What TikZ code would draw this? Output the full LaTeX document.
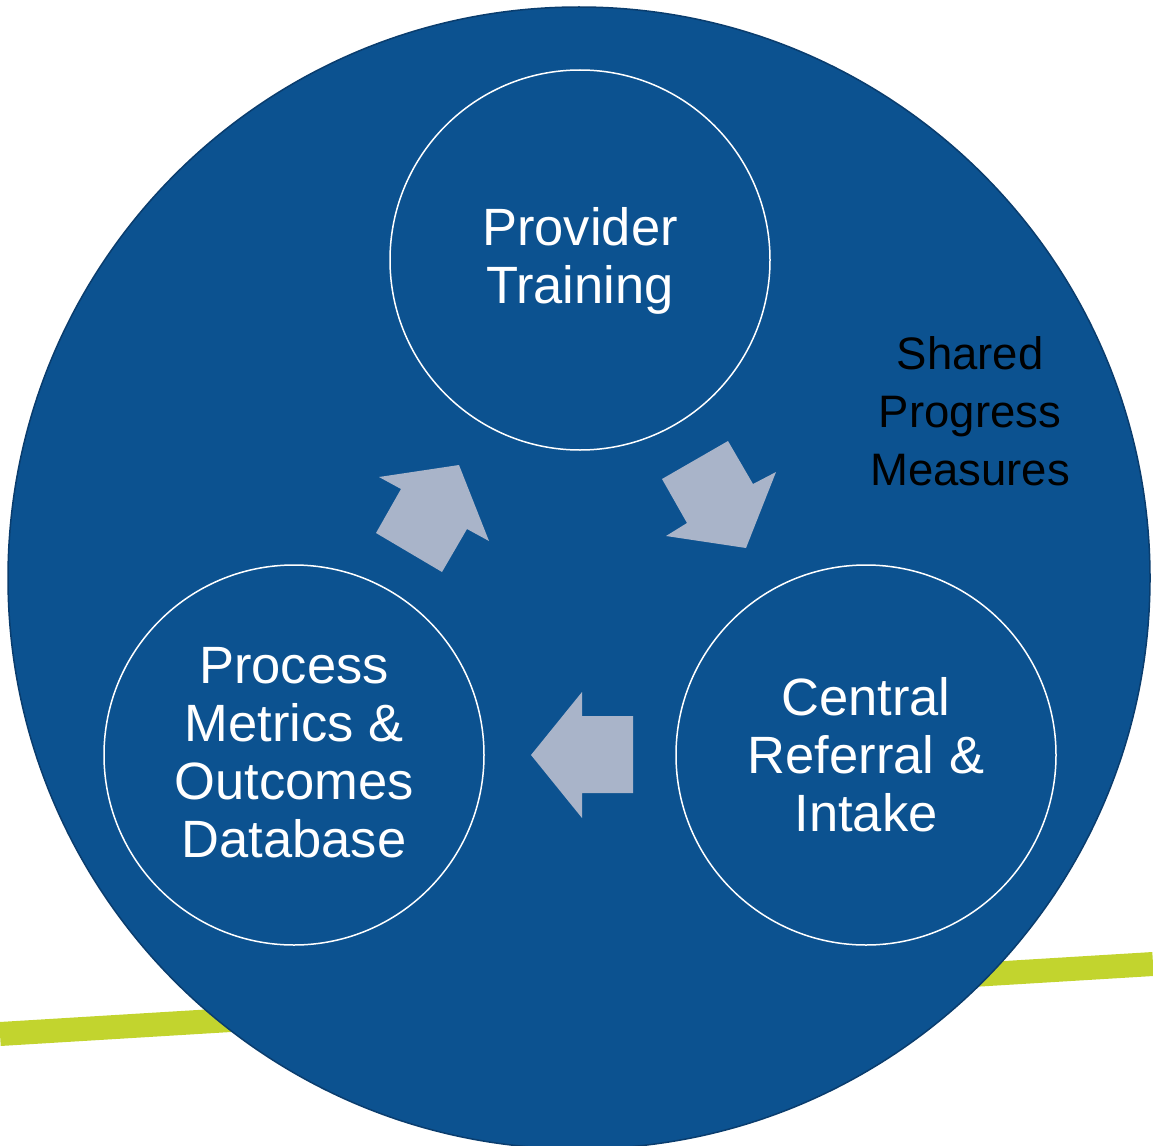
\documentclass[tikz,border=0pt]{standalone}
\usepackage{fontspec}
\setmainfont{Liberation Sans}
\definecolor{bigblue}{HTML}{0C5290}
\definecolor{edgeblue}{HTML}{0A3D6E}
\definecolor{arrowgray}{HTML}{A9B4C9}
\definecolor{limegreen}{HTML}{C2D42E}
\begin{document}
\begin{tikzpicture}[x=1pt,y=-1pt,
  stage/.style={circle,draw=white,line width=1.5pt,minimum size=380pt,inner sep=0pt},
  stagetext/.style={text=white,align=center,font=\fontsize{52.5}{58}\selectfont},
  flow/.style={fill=arrowgray,draw=none}]
\useasboundingbox (0,0) rectangle (1153,1145);
\clip (0,0) rectangle (1153,1145);
% green band behind
\coordinate (gl) at (0,1034);
\coordinate (gr) at (1153,964);
\draw[limegreen,line width=24pt] (gl) -- (gr);
% big circle
\node[circle,fill=bigblue,draw=edgeblue,line width=1.5pt,minimum size=1142pt,inner sep=0pt] (big) at (579,578) {};
% stage circles
\node[stage] (pt) at (580,260) {};
\node[stage] (pm) at (294,755) {};
\node[stage] (cr) at (866,755) {};
\node[stagetext] (ptt) at (580,261) {Provider\\Training};
\node[stagetext] (pmt) at (294,753) {Process\\Metrics \&\\Outcomes\\Database};
\node[stagetext] (crt) at (866,755) {Central\\Referral \&\\Intake};
\node[text=black,align=center,font=\fontsize{45.5}{58}\selectfont] (spm) at (970,411) {Shared\\Progress\\Measures};
% arrows
\fill[flow] (376,533) -- (401,489) -- (379,477) -- (459,465) -- (489,541) -- (467,529) -- (442,572) -- cycle;
\fill[flow] (662,479) -- (728,441) -- (753,484) -- (776,472) -- (746,548) -- (666,536) -- (687,523) -- cycle;
\fill[flow] (633,716) -- (582,716) -- (582,692) -- (531,755) -- (582,818) -- (582,793) -- (633,793) -- cycle;
\end{tikzpicture}
\end{document}
